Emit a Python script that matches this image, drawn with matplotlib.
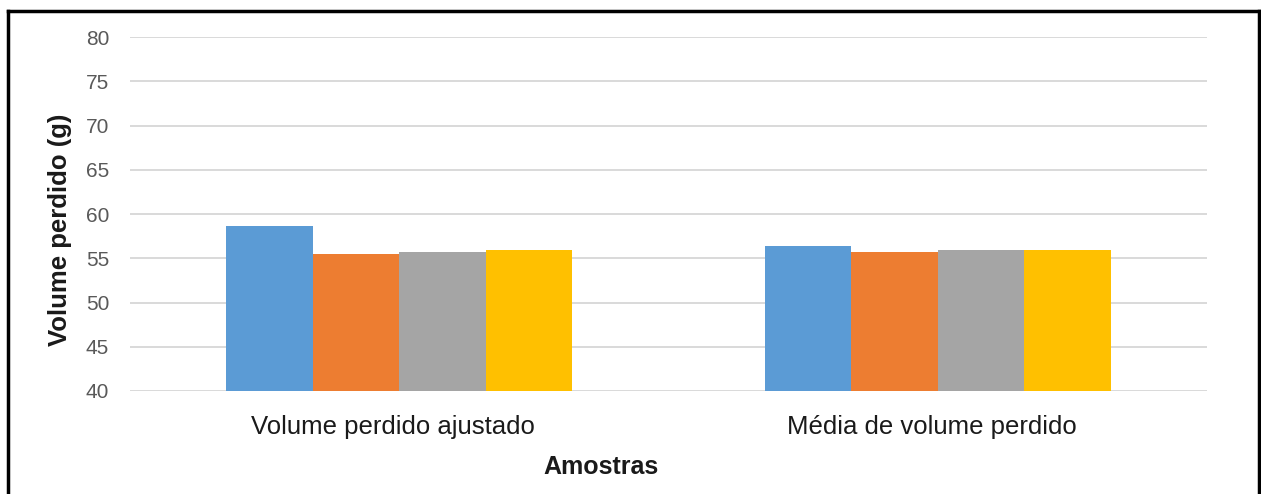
import numpy as np
import matplotlib
matplotlib.use("Agg")
import matplotlib.pyplot as plt
import matplotlib.transforms as mtransforms
from matplotlib.lines import Line2D

plt.rcParams['font.family'] = ['Liberation Sans', 'DejaVu Sans']

# Dados do gráfico
categorias = ["Volume perdido ajustado", "Média de volume perdido"]
amostra_1 = [58.6, 56.4]
amostra_2 = [55.5, 55.7]
amostra_3 = [55.7, 55.9]
amostra_4 = [55.9, 55.9]
series = [amostra_1, amostra_2, amostra_3, amostra_4]
cores = ["#5B9BD5", "#ED7D31", "#A5A5A5", "#FFC000"]
yticks = [40, 45, 50, 55, 60, 65, 70, 75, 80]

fig = plt.figure(figsize=(12.61, 4.94), dpi=100)
ax = fig.add_axes([130 / 1261, 1 - 391 / 494, 1077 / 1261, 354 / 494])

x = np.arange(len(categorias))
largura = 0.643 / len(series)
for i, (valores, cor) in enumerate(zip(series, cores)):
    desloc = (i - (len(series) - 1) / 2) * largura
    ax.bar(x + desloc, np.array(valores) - 40, bottom=40, width=largura,
           color=cor, zorder=3)

ax.set_xlim(-0.5, len(categorias) - 0.5)
ax.set_ylim(40, 80)
ax.set_yticks(yticks)
ax.set_yticklabels([str(v) for v in yticks])
ax.set_xticks(x)
ax.set_xticklabels(categorias)

ax.grid(axis='y', color="#D9D9D9", linewidth=1.4, zorder=0)
for lado in ax.spines.values():
    lado.set_visible(False)
ax.tick_params(axis='y', length=0, pad=15, labelsize=15, labelcolor="#595959")
ax.tick_params(axis='x', length=0, pad=17, labelsize=18.5, labelcolor="#1a1a1a")

# Desloca um pouco os rótulos das categorias para a esquerda
desvio = mtransforms.ScaledTranslation(-6 / 100, 0, fig.dpi_scale_trans)
for rotulo in ax.get_xticklabels():
    rotulo.set_transform(rotulo.get_transform() + desvio)

ax.set_ylabel("Volume perdido (g)", fontsize=18.5, fontweight='bold',
              color="#1a1a1a", va='center')
ax.yaxis.set_label_coords(-0.065, 0.455)
ax.set_xlabel("Amostras", fontsize=18, fontweight='bold', color="#1a1a1a",
              va='center')
ax.xaxis.set_label_coords(0.437, -0.215)

# Moldura em volta do gráfico (aberta embaixo)
xe, xd, yt = 8 / 1261, 1259 / 1261, 1 - 11 / 494
for xs, ys in [([xe, xe], [0, yt]), ([xe, xd], [yt, yt]), ([xd, xd], [yt, 0])]:
    fig.add_artist(Line2D(xs, ys, color="black", linewidth=2.5,
                          transform=fig.transFigure))

fig.savefig("out.png", dpi=100, facecolor="white")
